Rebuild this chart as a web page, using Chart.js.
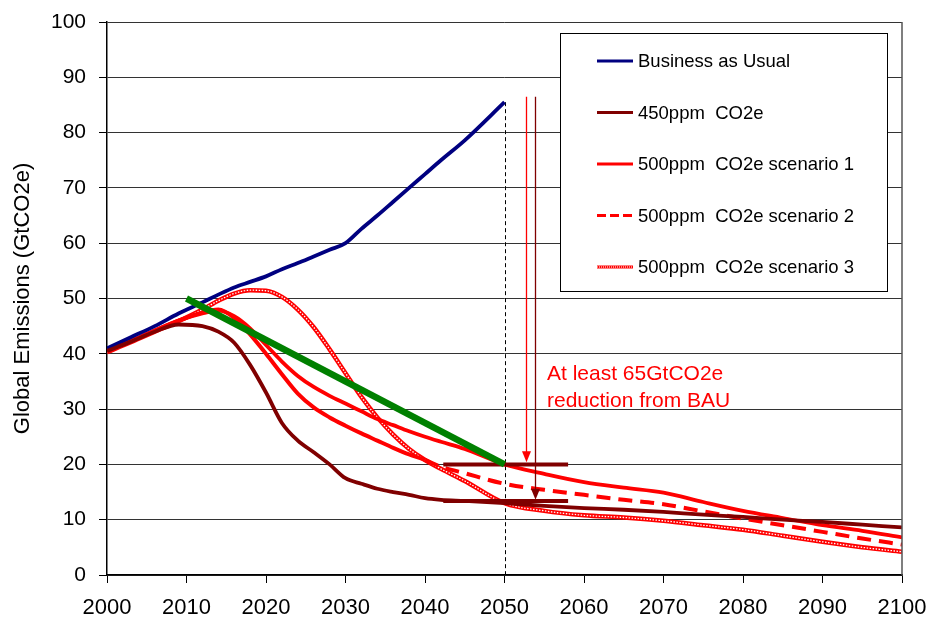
<!DOCTYPE html>
<html>
<head>
<meta charset="utf-8">
<script src="https://cdn.jsdelivr.net/npm/chart.js@4"></script>
<style>
  body { margin: 0; background: #fff; }
  #wrap { width: 932px; height: 621px; }
</style>
</head>
<body>
<div id="wrap"><canvas id="chart" width="932" height="621"></canvas></div>
<script>
// sample years shared by the scenario curves
const years = [2000, 2003, 2006, 2009, 2012, 2014, 2016, 2018, 2020, 2022, 2024, 2026, 2028, 2030,
               2032, 2034, 2036, 2038, 2040, 2042, 2045, 2050, 2055, 2060, 2065, 2070, 2075, 2080,
               2085, 2090, 2095, 2100];

const bau = [41, 43, 45, 47.3, 49.3, 50.7, 52, 53, 54, 55.3, 56.4, 57.6, 58.8, 60,
             62.6, 65, 67.5, 70, 72.5, 75, 78.6, 85.5, null, null, null, null, null, null,
             null, null, null, null];
const ppm450 = [40.5, 42.2, 44, 45.3, 45, 44, 42, 38, 33, 27.5, 24.3, 22.2, 20, 17.5,
                16.5, 15.6, 15, 14.5, 13.9, 13.6, 13.4, 13, 12.5, 12.1, 11.8, 11.4, 10.9, 10.5,
                10, 9.6, 9.1, 8.6];
const ppm500s1 = [40.5, 42.3, 44.2, 46, 47.3, 47.8, 46.8, 44.6, 41.6, 38.6, 36, 34, 32.4, 31,
                  29.6, 28.2, 27.1, 26, 25, 24.1, 22.8, 20, 18.3, 16.8, 15.8, 14.9, 13.2, 11.6,
                  10.3, 9, 8, 6.8];
const ppm500s2 = [40.5, 42.3, 44.2, 46, 47.5, 48, 46.5, 43.5, 40, 36.3, 32.8, 30.3, 28.5, 27,
                  25.6, 24.3, 23, 21.8, 20.8, 19.6, 18.4, 16.5, 15.4, 14.5, 13.6, 12.8, 11.5, 10.2,
                  9, 7.8, 6.6, 5.5];
const ppm500s3 = [40.3, 42.1, 44, 45.9, 48, 49.6, 50.9, 51.5, 51.4, 50.3, 48, 44.8, 40.8, 36.5,
                  32.2, 28.5, 25.4, 22.8, 20.8, 19.2, 17, 13, 11.6, 10.8, 10.4, 9.8, 9, 8.2,
                  7.1, 6, 5, 4.2];

// green straight path and the two target bars
const trendYears = [2010, 2050];
const trendValues = [50, 20];
const targetYears = [2042.3, 2058];
const target500 = [20, 20];
const target450 = [13.4, 13.4];

// reduction arrows
const arrowYears = [2052.7, 2053.8];
const arrowTop = [86.5, 86.5];
const arrowTip = [20.4, 13.6];

const seriesLabels = ['Business as Usual', '450ppm  CO2e', '500ppm  CO2e scenario 1',
                      '500ppm  CO2e scenario 2', '500ppm  CO2e scenario 3'];
const noteLines = ['At least 65GtCO2e', 'reduction from BAU'];

const FONT = '"Liberation Sans", Arial, sans-serif';
const NAVY = '#000080', MAROON = '#800000', RED = '#ff0000', GREEN = '#008000';

Chart.defaults.font.family = FONT;

function pts(xs, ys) {
    return xs.map((x, i) => ({ x: x, y: ys[i] }));
}

const curve = { pointRadius: 0, fill: false, cubicInterpolationMode: 'monotone', borderWidth: 3.8 };

const datasets = [
    { label: 'trend', data: pts(trendYears, trendValues), borderColor: GREEN, borderWidth: 6.5,
      pointRadius: 0, order: 0, borderCapStyle: 'butt' },
    { label: 't500', data: pts(targetYears, target500), borderColor: MAROON, borderWidth: 4,
      pointRadius: 0, order: 1 },
    { label: 't450', data: pts(targetYears, target450), borderColor: MAROON, borderWidth: 4,
      pointRadius: 0, order: 1 },
    { ...curve, label: seriesLabels[0], data: pts(years, bau), borderColor: NAVY, order: 3, legend: 'solid' },
    { ...curve, label: seriesLabels[1], data: pts(years, ppm450), borderColor: MAROON, order: 2, legend: 'solid' },
    { ...curve, label: seriesLabels[2], data: pts(years, ppm500s1), borderColor: RED, order: 4, legend: 'solid' },
    { ...curve, label: seriesLabels[3], data: pts(years, ppm500s2), borderColor: RED, order: 5,
      borderWidth: 4, legend: 'dash',
      segment: { borderDash: ctx => ctx.p0.parsed.x >= 2040 ? [14, 8] : undefined } },
    { ...curve, label: 'dots', data: pts(years, ppm500s3), borderColor: '#ffffff', borderWidth: 1.3,
      borderDash: [1.5, 1.5], order: 6 },
    { ...curve, label: seriesLabels[4], data: pts(years, ppm500s3), borderColor: RED, borderWidth: 4.5,
      order: 7, legend: 'dot' }
];

const extras = {
    id: 'extras',
    beforeDatasetsDraw(chart) {
        const { ctx, scales: { x, y } } = chart;
        ctx.save();
        // dashed marker at 2050
        ctx.strokeStyle = '#000';
        ctx.lineWidth = 1;
        ctx.setLineDash([4, 3]);
        const px = Math.round(x.getPixelForValue(2050)) + 0.5;
        ctx.beginPath();
        ctx.moveTo(px, y.getPixelForValue(85.5));
        ctx.lineTo(px, y.getPixelForValue(0));
        ctx.stroke();
        ctx.restore();
    },
    afterDatasetsDraw(chart) {
        const { ctx, chartArea, scales: { x, y } } = chart;
        ctx.save();
        // right frame
        ctx.strokeStyle = '#555';
        ctx.lineWidth = 1.5;
        ctx.beginPath();
        ctx.moveTo(chartArea.right, chartArea.top);
        ctx.lineTo(chartArea.right, chartArea.bottom);
        ctx.stroke();

        // arrows
        const arrowColors = [RED, MAROON];
        arrowYears.forEach((yr, i) => {
            const ax = Math.round(x.getPixelForValue(yr)) + 0.5;
            const y0 = y.getPixelForValue(arrowTop[i]);
            const y1 = y.getPixelForValue(arrowTip[i]);
            ctx.strokeStyle = arrowColors[i];
            ctx.fillStyle = arrowColors[i];
            ctx.lineWidth = 1.3;
            ctx.beginPath();
            ctx.moveTo(ax, y0);
            ctx.lineTo(ax, y1 - 8);
            ctx.stroke();
            ctx.beginPath();
            ctx.moveTo(ax - 4.5, y1 - 11);
            ctx.lineTo(ax + 4.5, y1 - 11);
            ctx.lineTo(ax, y1);
            ctx.closePath();
            ctx.fill();
        });

        // note text
        ctx.fillStyle = RED;
        ctx.font = '21px ' + FONT;
        ctx.textBaseline = 'alphabetic';
        ctx.fillText(noteLines[0], 547, 380);
        ctx.fillText(noteLines[1], 547, 407);
        ctx.restore();
    },
    afterDraw(chart) {
        const ctx = chart.ctx;
        ctx.save();
        ctx.fillStyle = '#fff';
        ctx.strokeStyle = '#000';
        ctx.lineWidth = 1;
        ctx.fillRect(560.5, 33.5, 327, 258);
        ctx.strokeRect(560.5, 33.5, 327, 258);
        const items = chart.data.datasets.filter(d => d.legend);
        ctx.font = '18.5px ' + FONT;
        ctx.textBaseline = 'middle';
        items.forEach((d, i) => {
            const cy = 61 + i * 51.5;
            ctx.strokeStyle = d.borderColor;
            ctx.lineWidth = 3;
            ctx.setLineDash(d.legend === 'dash' ? [9, 4] : []);
            ctx.beginPath();
            ctx.moveTo(597, cy);
            ctx.lineTo(633, cy);
            ctx.stroke();
            if (d.legend === 'dot') {
                ctx.strokeStyle = '#fff';
                ctx.lineWidth = 1;
                ctx.setLineDash([1, 1]);
                ctx.beginPath();
                ctx.moveTo(597, cy);
                ctx.lineTo(633, cy);
                ctx.stroke();
            }
            ctx.setLineDash([]);
            ctx.fillStyle = '#000';
            ctx.fillText(d.label, 638, cy + 1);
        });
        ctx.restore();
    }
};

new Chart(document.getElementById('chart'), {
    type: 'line',
    data: { datasets: datasets },
    options: {
        responsive: false,
        animation: false,
        devicePixelRatio: 1,
        layout: { padding: { left: 0, right: 30, top: 22, bottom: 0 } },
        plugins: { legend: { display: false }, tooltip: { enabled: false } },
        scales: {
            x: {
                type: 'linear', min: 2000, max: 2100,
                ticks: { stepSize: 10, color: '#000', font: { size: 22 }, padding: 12, maxRotation: 0,
                         callback: v => String(v) },
                grid: { drawOnChartArea: false, tickLength: 8, color: '#000', tickColor: '#000' },
                border: { color: '#000', width: 1.5 },
                afterFit: s => { s.height = 46; s.paddingLeft = 0; s.paddingRight = 0; }
            },
            y: {
                min: 0, max: 100,
                ticks: { stepSize: 10, color: '#000', font: { size: 21 }, padding: 13 },
                grid: { color: '#333', lineWidth: 1, tickLength: 8, tickColor: '#000' },
                border: { color: '#000', width: 1.5 },
                title: { display: true, text: 'Global Emissions (GtCO2e)', color: '#000',
                         font: { size: 22 }, padding: { top: 10, bottom: 0 } },
                afterFit: s => { s.width = 107; s.paddingTop = 0; s.paddingBottom = 0; }
            }
        }
    },
    plugins: [extras]
});
</script>
</body>
</html>
